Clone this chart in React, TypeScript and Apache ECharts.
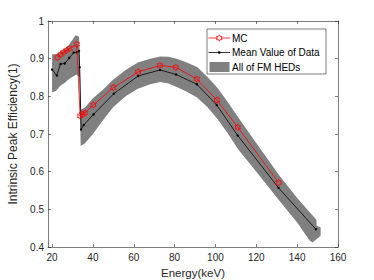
import React, { useEffect, useRef } from 'react';
import * as echarts from 'echarts';

const xTicks = [20, 40, 60, 80, 100, 120, 140, 160];

const mcEnergy = [22.5, 24.2, 25.6, 27.1, 28.6, 32.1, 33.7, 34.9, 36.1, 40.2, 50.0, 62.1, 72.8, 80.6, 90.9, 100.7, 110.9, 130.9];
const mcEff = [0.903, 0.911, 0.917, 0.922, 0.927, 0.938, 0.748, 0.752, 0.756, 0.777, 0.823, 0.865, 0.882, 0.877, 0.846, 0.790, 0.718, 0.571];

const meanEnergy = [20, 22.3, 24.1, 26.2, 28.4, 30.6, 32.1, 33.2, 33.5, 34.2, 35.5, 40.3, 50.2, 62.1, 72.9, 80.7, 90.9, 100.6, 110.9, 130.9, 149.2];
const meanEff = [0.871, 0.855, 0.886, 0.887, 0.902, 0.916, 0.917, 0.921, 0.877, 0.712, 0.724, 0.752, 0.807, 0.854, 0.870, 0.858, 0.832, 0.777, 0.696, 0.557, 0.447];

const bandUpperE = [20, 22, 24, 26, 28, 30, 31.5, 33.2, 33.6, 34.2, 36, 40, 45, 50, 56, 62, 68, 73, 77, 81, 86, 91, 96, 101, 106, 111, 121, 131, 140, 149.5, 149.5, 151.5, 151.5];
const bandUpperEff = [0.912, 0.912, 0.918, 0.925, 0.935, 0.950, 0.962, 0.958, 0.90, 0.765, 0.770, 0.795, 0.818, 0.845, 0.870, 0.890, 0.900, 0.906, 0.905, 0.900, 0.890, 0.878, 0.852, 0.822, 0.785, 0.745, 0.668, 0.592, 0.530, 0.472, 0.457, 0.452, 0.430];
const bandLowerE = [20, 22, 24, 26, 28, 30, 32, 33.4, 34, 36, 40, 45, 50, 56, 62, 68, 73, 77, 81, 86, 91, 96, 101, 106, 111, 121, 131, 140, 146, 147.5];
const bandLowerEff = [0.810, 0.815, 0.828, 0.835, 0.845, 0.852, 0.858, 0.850, 0.668, 0.675, 0.700, 0.737, 0.772, 0.800, 0.820, 0.832, 0.838, 0.834, 0.825, 0.812, 0.797, 0.772, 0.740, 0.702, 0.660, 0.593, 0.525, 0.465, 0.418, 0.412];

const legendNames = ['MC', 'Mean Value of Data', 'All of FM HEDs'];

const FONT = 'Liberation Sans';
const AX = '#262626';
const BAND = '#808080';
const RED = '#ff0000';

function hexagramPoints(cx: number, cy: number, R: number): number[][] {
  const pts: number[][] = [];
  for (let i = 0; i < 12; i++) {
    const a = ((-90 + i * 30) * Math.PI) / 180;
    const r = i % 2 === 0 ? R : R * 0.577;
    pts.push([cx + r * Math.cos(a), cy + r * Math.sin(a)]);
  }
  return pts;
}

function hexagramPath(): string {
  const pts = hexagramPoints(0, 0, 10).map((p) => `${p[0].toFixed(3)} ${p[1].toFixed(3)}`);
  return 'path://M' + pts.join(' L') + ' Z';
}

export default function App() {
  const ref = useRef<HTMLDivElement>(null);
  useEffect(() => {
    const chart = echarts.init(ref.current!, null, { renderer: 'svg' });
    const axisLine = { show: true, onZero: false, lineStyle: { color: AX, width: 0.6 } };
    const tick = { show: true, inside: true, length: 3, lineStyle: { color: AX, width: 0.6 } };
    const hex = hexagramPath();
    const lgX = 207, lgY = 29, lgW = 119, lgH = 45;
    const rowY = [lgY + 9, lgY + 23.5, lgY + 38];
    const sx0 = lgX + 1.5, sx1 = lgX + 23, tx = lgX + 25;
    const txt = (y: number, s: string) => ({
      type: 'text', x: tx, y, z: 101,
      style: { text: s, fill: '#000', font: `10px "${FONT}"`, verticalAlign: 'middle', textAlign: 'left' },
    });
    const option: any = {
      animation: false,
      backgroundColor: '#fff',
      grid: { left: 48, top: 21, right: 36, bottom: 33, outerBoundsMode: 'none', containLabel: false },
      graphic: [
        { type: 'rect', z: 100, shape: { x: lgX, y: lgY, width: lgW, height: lgH }, style: { fill: '#fff', stroke: AX, lineWidth: 0.6 } },
        { type: 'line', z: 101, shape: { x1: sx0, y1: rowY[0], x2: sx1, y2: rowY[0] }, style: { stroke: RED, lineWidth: 0.8 } },
        { type: 'polygon', z: 102, shape: { points: hexagramPoints((sx0 + sx1) / 2, rowY[0], 3.2) }, style: { fill: '#fff', stroke: RED, lineWidth: 0.8 } },
        txt(rowY[0], legendNames[0]),
        { type: 'line', z: 101, shape: { x1: sx0, y1: rowY[1], x2: sx1, y2: rowY[1] }, style: { stroke: '#000', lineWidth: 0.8 } },
        { type: 'circle', z: 102, shape: { cx: (sx0 + sx1) / 2, cy: rowY[1], r: 1.3 }, style: { fill: '#000' } },
        txt(rowY[1], legendNames[1]),
        { type: 'rect', z: 101, shape: { x: sx0 + 1, y: rowY[2] - 5, width: 20, height: 10 }, style: { fill: BAND } },
        txt(rowY[2], legendNames[2]),
      ],
      xAxis: [
        {
          type: 'value', min: 18, max: 160, position: 'bottom',
          axisLine, axisTick: { ...tick, customValues: xTicks },
          axisLabel: { customValues: xTicks, color: AX, fontSize: 10, margin: 5, fontFamily: FONT },
          splitLine: { show: false },
          name: 'Energy(keV)', nameLocation: 'middle', nameGap: 20,
          nameTextStyle: { fontSize: 11.5, color: AX, fontFamily: FONT },
        },
        {
          type: 'value', min: 18, max: 160, position: 'top',
          axisLine, axisTick: { ...tick, customValues: xTicks },
          axisLabel: { show: false }, splitLine: { show: false },
        },
      ],
      yAxis: [
        {
          type: 'value', min: 0.4, max: 1, interval: 0.1, position: 'left',
          axisLine, axisTick: tick,
          axisLabel: { color: AX, fontSize: 10, margin: 4, fontFamily: FONT },
          splitLine: { show: false },
          name: 'Intrinsic Peak Efficiency(1)', nameLocation: 'middle', nameGap: 21,
          nameTextStyle: { fontSize: 12, color: AX, fontFamily: FONT },
        },
        {
          type: 'value', min: 0.4, max: 1, interval: 0.1, position: 'right',
          axisLine, axisTick: tick, axisLabel: { show: false }, splitLine: { show: false },
        },
      ],
      series: [
        {
          type: 'custom',
          name: legendNames[2],
          xAxisIndex: 0,
          yAxisIndex: 0,
          silent: true,
          z: 1,
          itemStyle: { color: BAND },
          data: [[bandUpperE[0], bandUpperEff[0]]],
          encode: { x: 0, y: 1 },
          renderItem: (params: any, api: any) => {
            const pts: number[][] = [];
            for (let i = 0; i < bandUpperE.length; i++) pts.push(api.coord([bandUpperE[i], bandUpperEff[i]]));
            for (let i = bandLowerE.length - 1; i >= 0; i--) pts.push(api.coord([bandLowerE[i], bandLowerEff[i]]));
            return { type: 'polygon', shape: { points: pts }, style: { fill: BAND } };
          },
        },
        {
          type: 'line',
          name: legendNames[1],
          z: 3,
          data: meanEnergy.map((e, i) => [e, meanEff[i]]),
          symbol: 'circle',
          symbolSize: 2.4,
          showAllSymbol: true,
          lineStyle: { color: '#000', width: 0.8 },
          itemStyle: { color: '#000' },
        },
        {
          type: 'line',
          name: legendNames[0],
          z: 4,
          data: mcEnergy.map((e, i) => [e, mcEff[i]]),
          symbol: hex,
          symbolKeepAspect: true,
          symbolSize: 6.5,
          showAllSymbol: true,
          lineStyle: { color: RED, width: 0.8 },
          itemStyle: { color: 'rgba(255,255,255,0)', borderColor: RED, borderWidth: 0.8 },
        },
      ],
    };
    chart.setOption(option);
    return () => chart.dispose();
  }, []);
  return <div ref={ref} style={{ position: 'fixed', left: 0, top: 0, width: 374, height: 280 }} />;
}
